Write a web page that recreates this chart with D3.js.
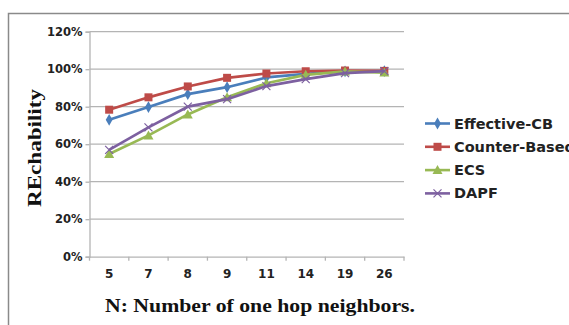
<!DOCTYPE html>
<html>
<head>
<meta charset="utf-8">
<script src="https://cdn.jsdelivr.net/npm/d3@7/dist/d3.min.js"></script>
<style>
  html, body { margin: 0; padding: 0; background: #fff; }
  svg { display: block; }
</style>
</head>
<body>
<svg id="chart" width="569" height="325"></svg>
<script>
// Number of one-hop neighbours (category axis)
const categories = ["5", "7", "8", "9", "11", "14", "19", "26"];

// Reachability (%) per scheme
const effectiveCB  = [73, 79.8, 86.7, 90.4, 95.6, 97.5, 98.9, 99];
const counterBased = [78.4, 85, 90.8, 95.4, 97.7, 98.9, 99.3, 99.1];
const ecs          = [54.8, 64.7, 75.9, 85, 92.5, 97, 98.8, 98.2];
const dapf         = [57, 69, 80, 84, 91, 94.7, 97.9, 99];

const seriesNames = ["Effective-CB", "Counter-Based", "ECS", "DAPF"];
const yTicks = [0, 20, 40, 60, 80, 100, 120];

const series = [
  { name: seriesNames[0], values: effectiveCB,  color: "#4a7ebb", marker: "diamond" },
  { name: seriesNames[1], values: counterBased, color: "#be4b48", marker: "square" },
  { name: seriesNames[2], values: ecs,          color: "#98b954", marker: "triangle" },
  { name: seriesNames[3], values: dapf,         color: "#7d60a0", marker: "x" }
];

const sansFont = "DejaVu Sans, Verdana, sans-serif";
const serifFont = "Liberation Serif, Times New Roman, serif";

const svg = d3.select("#chart");

// outer chart frame
svg.append("rect")
  .attr("x", 8.5).attr("y", 13.5)
  .attr("width", 600).attr("height", 400)
  .attr("fill", "none")
  .attr("stroke", "#8a8a8a")
  .attr("stroke-width", 1.5);

const plot = { left: 89.5, right: 404, top: 31.7, bottom: 256.7 };

const x = d3.scaleBand().domain(categories).range([plot.left, plot.right]);
const y = d3.scaleLinear().domain([0, 120]).range([plot.bottom, plot.top]);

// horizontal gridlines
svg.append("g")
  .selectAll("line")
  .data(yTicks.filter(t => t > 0))
  .join("line")
  .attr("x1", plot.left).attr("x2", plot.right)
  .attr("y1", d => y(d)).attr("y2", d => y(d))
  .attr("stroke", "#b4b4b4").attr("stroke-width", 1.3);

// y axis
const yAxis = svg.append("g")
  .attr("transform", `translate(${plot.left},0)`)
  .call(d3.axisLeft(y).tickValues(yTicks).tickFormat(d => d + "%").tickSize(4).tickPadding(3));
yAxis.select(".domain").attr("stroke", "#b4b4b4").attr("stroke-width", 1.3);
yAxis.selectAll(".tick line").attr("stroke", "#b4b4b4").attr("stroke-width", 1.3);
yAxis.selectAll("text")
  .attr("font-family", sansFont)
  .attr("font-weight", "bold")
  .attr("font-size", "11.5px")
  .attr("fill", "#222");

// x axis: ticks sit between categories
const xAxis = svg.append("g")
  .attr("transform", `translate(0,${plot.bottom})`)
  .call(d3.axisBottom(x).tickSize(0).tickPadding(13));
xAxis.select(".domain").attr("stroke", "#b4b4b4").attr("stroke-width", 1.3);
xAxis.selectAll("text")
  .attr("font-family", sansFont)
  .attr("font-weight", "bold")
  .attr("font-size", "12px")
  .attr("fill", "#222");
xAxis.append("g")
  .selectAll("line")
  .data(d3.range(categories.length + 1))
  .join("line")
  .attr("x1", i => plot.left + i * x.bandwidth())
  .attr("x2", i => plot.left + i * x.bandwidth())
  .attr("y1", 0).attr("y2", 4)
  .attr("stroke", "#b4b4b4").attr("stroke-width", 1.3);

// axis titles
svg.append("text")
  .attr("x", 105).attr("y", 312)
  .attr("font-family", serifFont)
  .attr("font-weight", "bold")
  .attr("font-size", "19px")
  .attr("textLength", 310)
  .attr("lengthAdjust", "spacingAndGlyphs")
  .attr("fill", "#111")
  .text("N: Number of one hop neighbors.");

svg.append("text")
  .attr("transform", "translate(41,207) rotate(-90)")
  .attr("font-family", serifFont)
  .attr("font-weight", "bold")
  .attr("font-size", "18.5px")
  .attr("textLength", 118)
  .attr("lengthAdjust", "spacingAndGlyphs")
  .attr("fill", "#111")
  .text("REchability");

// marker shapes
function drawMarker(g, type, color) {
  if (type === "diamond") {
    g.append("path").attr("d", d3.symbol(d3.symbolDiamond, 40)()).attr("fill", color);
  } else if (type === "square") {
    g.append("rect").attr("x", -4).attr("y", -4).attr("width", 8).attr("height", 8).attr("fill", color);
  } else if (type === "triangle") {
    g.append("path").attr("d", "M0,-5L5,4L-5,4Z").attr("fill", color);
  } else if (type === "x") {
    g.append("path").attr("d", "M-4,-4L4,4M-4,4L4,-4")
      .attr("stroke", color).attr("stroke-width", 1.2).attr("fill", "none");
  }
}

const line = d3.line()
  .x((d, i) => x(categories[i]) + x.bandwidth() / 2)
  .y(d => y(d));

series.forEach(s => {
  const g = svg.append("g");
  g.append("path")
    .attr("d", line(s.values))
    .attr("fill", "none")
    .attr("stroke", s.color)
    .attr("stroke-width", 2.7)
    .attr("stroke-linejoin", "round");
  s.values.forEach((v, i) => {
    const mg = g.append("g")
      .attr("transform", `translate(${x(categories[i]) + x.bandwidth() / 2},${y(v)})`);
    drawMarker(mg, s.marker, s.color);
  });
});

// legend (runs past the right edge of the frame)
const legend = svg.append("g");
series.forEach((s, i) => {
  const ly = 123.5 + i * 23.3;
  const lg = legend.append("g");
  lg.append("line")
    .attr("x1", 425).attr("x2", 450)
    .attr("y1", ly).attr("y2", ly)
    .attr("stroke", s.color).attr("stroke-width", 2.6);
  const mg = lg.append("g").attr("transform", `translate(437.5,${ly})`);
  drawMarker(mg, s.marker, s.color);
  lg.append("text")
    .attr("x", 454).attr("y", ly + 5)
    .attr("font-family", sansFont)
    .attr("font-weight", "bold")
    .attr("font-size", "14.5px")
    .attr("fill", "#222")
    .text(s.name);
});
</script>
</body>
</html>
